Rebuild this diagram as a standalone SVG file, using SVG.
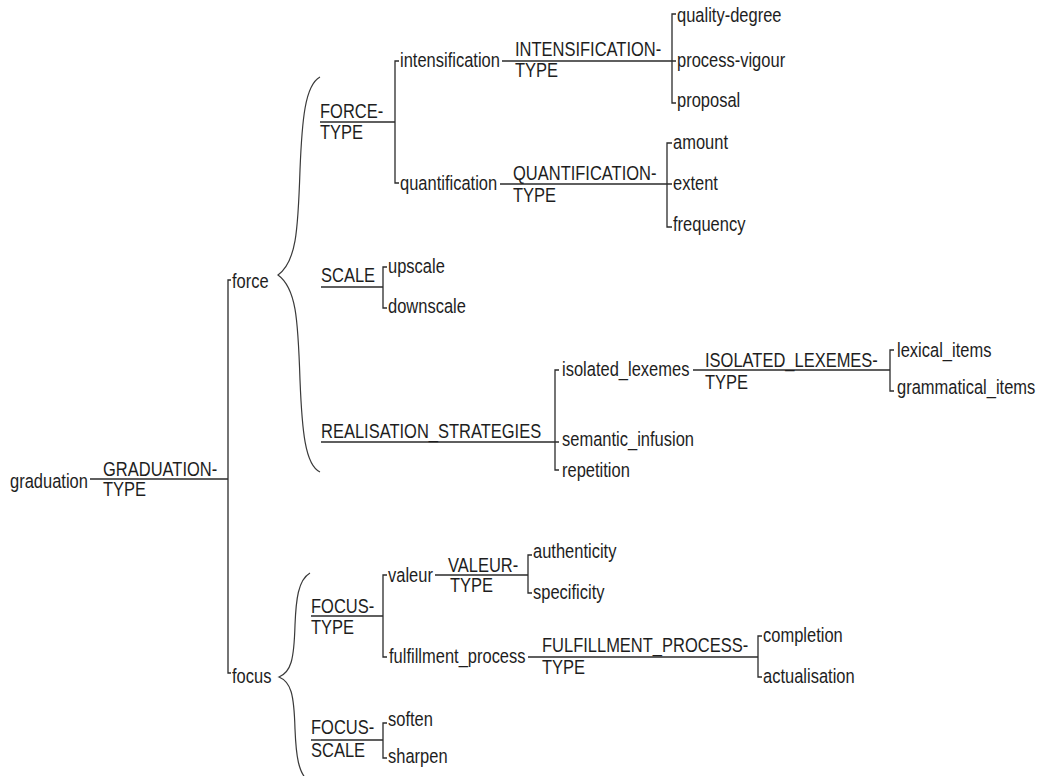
<svg xmlns="http://www.w3.org/2000/svg" width="1043" height="776" viewBox="0 0 1043 776">
  <style>
    text { font-family: "Liberation Sans", Arial, sans-serif; font-size: 16.5px; fill: #1e1e1e; }
    .ln { stroke: #2b2b2b; stroke-width: 1.3; fill: none; }
    .br { stroke: #3a3a3a; stroke-width: 1.2; fill: none; }
  </style>
  <rect width="1043" height="776" fill="#ffffff"/>

  <!-- connectors: system lines, brackets and braces -->
  <g id="connectors">
    <!-- graduation -> GRADUATION-TYPE -->
    <path class="ln" d="M90 479H228 M231 280H228V673H231"/>
    <!-- force brace -->
    <path class="br" d="M320 77C305 85 302 120 300 170C298 232 296 262 278 275C296 288 298 318 300 380C302 430 305 465 320 472"/>
    <!-- FORCE-TYPE -->
    <path class="ln" d="M320 122H395 M399 61H395V183H399"/>
    <path class="ln" d="M502 61H672 M676 14H672V103H676 M672 61H676"/>
    <path class="ln" d="M500 184H667 M672 143H667V227H672 M667 184H672"/>
    <!-- SCALE -->
    <path class="ln" d="M321 287H383 M387 267H383V308H387"/>
    <!-- REALISATION_STRATEGIES -->
    <path class="ln" d="M321 442H555 M559 370H555V470H559 M555 442H559"/>
    <path class="ln" d="M693 370H890 M894 350H890V391H894"/>
    <!-- focus brace -->
    <path class="br" d="M310 573C298 580 296 600 295 625C294 660 291 672 279 677C291 682 294 694 295 729C296 754 298 775 310 782"/>
    <!-- FOCUS-TYPE -->
    <path class="ln" d="M311 616H383 M387 575H383V657H387"/>
    <path class="ln" d="M435 575H528 M532 555H528V593H532"/>
    <path class="ln" d="M528 657H758 M762 636H758V677H762"/>
    <!-- FOCUS-SCALE -->
    <path class="ln" d="M311 740H383 M387 723H383V758H387"/>
  </g>

  <!-- root -->
  <g id="graduation"><text transform="translate(10 488) scale(1 1.18)">graduation</text></g>
  <g id="graduation-type">
    <text transform="translate(103 476) scale(1 1.18)">GRADUATION-</text>
    <text transform="translate(103 496) scale(1 1.18)">TYPE</text>
  </g>
  <g id="force"><text transform="translate(232 288) scale(1 1.18)">force</text></g>
  <g id="focus"><text transform="translate(232 683) scale(1 1.18)">focus</text></g>

  <!-- force: FORCE-TYPE -->
  <g id="force-type">
    <text transform="translate(320 118) scale(1 1.18)">FORCE-</text>
    <text transform="translate(320 139) scale(1 1.18)">TYPE</text>
  </g>
  <g id="intensification"><text transform="translate(400 67) scale(1 1.18)">intensification</text></g>
  <g id="intensification-type">
    <text transform="translate(515 56) scale(1 1.18)">INTENSIFICATION-</text>
    <text transform="translate(515 77) scale(1 1.18)">TYPE</text>
  </g>
  <g id="quality-degree"><text transform="translate(677 22) scale(1 1.18)">quality-degree</text></g>
  <g id="process-vigour"><text transform="translate(677 67) scale(1 1.18)">process-vigour</text></g>
  <g id="proposal"><text transform="translate(677 107) scale(1 1.18)">proposal</text></g>

  <g id="quantification"><text transform="translate(400 190) scale(1 1.18)">quantification</text></g>
  <g id="quantification-type">
    <text transform="translate(513 180) scale(1 1.18)">QUANTIFICATION-</text>
    <text transform="translate(513 202) scale(1 1.18)">TYPE</text>
  </g>
  <g id="amount"><text transform="translate(673 149) scale(1 1.18)">amount</text></g>
  <g id="extent"><text transform="translate(673 190) scale(1 1.18)">extent</text></g>
  <g id="frequency"><text transform="translate(673 231) scale(1 1.18)">frequency</text></g>

  <!-- force: SCALE -->
  <g id="scale"><text transform="translate(321 282) scale(1 1.18)">SCALE</text></g>
  <g id="upscale"><text transform="translate(388 273) scale(1 1.18)">upscale</text></g>
  <g id="downscale"><text transform="translate(388 313) scale(1 1.18)">downscale</text></g>

  <!-- force: REALISATION_STRATEGIES -->
  <g id="realisation-strategies"><text transform="translate(321 438) scale(1 1.18)">REALISATION_STRATEGIES</text></g>
  <g id="isolated-lexemes"><text transform="translate(562 376) scale(1 1.18)">isolated_lexemes</text></g>
  <g id="semantic-infusion"><text transform="translate(562 446) scale(1 1.18)">semantic_infusion</text></g>
  <g id="repetition"><text transform="translate(562 477) scale(1 1.18)">repetition</text></g>
  <g id="isolated-lexemes-type">
    <text transform="translate(705 367) scale(1 1.18)">ISOLATED_LEXEMES-</text>
    <text transform="translate(705 389) scale(1 1.18)">TYPE</text>
  </g>
  <g id="lexical-items"><text transform="translate(897 357) scale(1 1.18)">lexical_items</text></g>
  <g id="grammatical-items"><text transform="translate(897 394) scale(1 1.18)">grammatical_items</text></g>

  <!-- focus: FOCUS-TYPE -->
  <g id="focus-type">
    <text transform="translate(311 613) scale(1 1.18)">FOCUS-</text>
    <text transform="translate(311 634) scale(1 1.18)">TYPE</text>
  </g>
  <g id="valeur"><text transform="translate(388 582) scale(1 1.18)">valeur</text></g>
  <g id="valeur-type">
    <text transform="translate(448 572) scale(1 1.18)">VALEUR-</text>
    <text transform="translate(450 592) scale(1 1.18)">TYPE</text>
  </g>
  <g id="authenticity"><text transform="translate(533 558) scale(1 1.18)">authenticity</text></g>
  <g id="specificity"><text transform="translate(533 599) scale(1 1.18)">specificity</text></g>
  <g id="fulfillment-process"><text transform="translate(389 663) scale(1 1.18)">fulfillment_process</text></g>
  <g id="fulfillment-process-type">
    <text transform="translate(542 652) scale(1 1.18)">FULFILLMENT_PROCESS-</text>
    <text transform="translate(542 674) scale(1 1.18)">TYPE</text>
  </g>
  <g id="completion"><text transform="translate(763 642) scale(1 1.18)">completion</text></g>
  <g id="actualisation"><text transform="translate(763 683) scale(1 1.18)">actualisation</text></g>

  <!-- focus: FOCUS-SCALE -->
  <g id="focus-scale">
    <text transform="translate(311 734) scale(1 1.18)">FOCUS-</text>
    <text transform="translate(311 757) scale(1 1.18)">SCALE</text>
  </g>
  <g id="soften"><text transform="translate(388 726) scale(1 1.18)">soften</text></g>
  <g id="sharpen"><text transform="translate(388 763) scale(1 1.18)">sharpen</text></g>
</svg>
